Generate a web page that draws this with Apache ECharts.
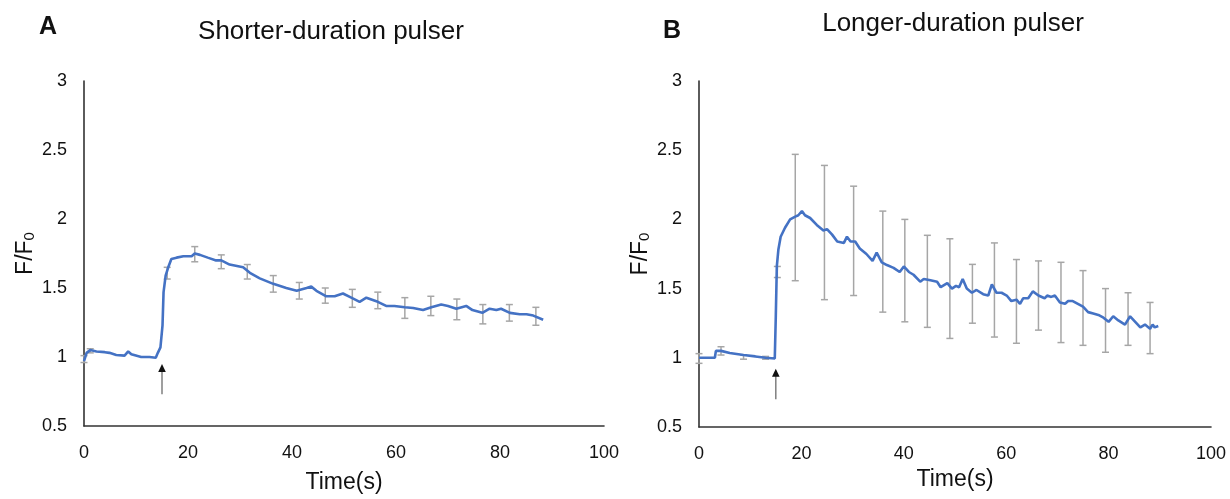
<!DOCTYPE html>
<html>
<head>
<meta charset="utf-8">
<script src="https://cdn.jsdelivr.net/npm/echarts@6/dist/echarts.min.js"></script>
<style>
  html, body { margin: 0; padding: 0; background: #ffffff; }
  #chart { width: 1230px; height: 499px; }
</style>
</head>
<body>
<div id="chart"></div>
<script>
// ---------------- data ----------------
var xTicks = [0, 20, 40, 60, 80, 100];
var yTicks = [0.5, 1, 1.5, 2, 2.5, 3];

// Panel A: shorter-duration pulser (mean trace)
var timeA = [0, 0.5, 1.2, 2.4, 4, 4.9, 6.2, 7.8, 8.5, 9.1, 11, 12.6, 13.8, 14.2, 14.7, 15.1, 15.3, 15.7, 16.2, 16.8,
  17.8, 19.1, 20.7, 21.3, 22.3, 23.8, 25.4, 26.4, 28, 30.6, 31.9, 33.8, 36.4, 38.9, 40.9, 42.8, 43.7, 44.7, 46.6, 48.2,
  49.8, 51.4, 53, 54.3, 56.5, 58.1, 59.7, 61.7, 63.3, 65.2, 66.8, 68.7, 70, 71.6, 73.5, 74.7, 76.6, 78, 79.3, 80.2,
  81.9, 83.8, 85.1, 86.4, 88.3];
var valueA = [0.97, 1.03, 1.05, 1.04, 1.035, 1.03, 1.015, 1.01, 1.04, 1.02, 1.00, 1.00, 0.995, 1.03, 1.07, 1.23, 1.47, 1.59, 1.65, 1.71,
  1.72, 1.73, 1.73, 1.75, 1.74, 1.72, 1.70, 1.70, 1.67, 1.65, 1.61, 1.57, 1.53, 1.50, 1.48, 1.50, 1.51, 1.48, 1.44, 1.44,
  1.46, 1.43, 1.40, 1.43, 1.40, 1.37, 1.37, 1.36, 1.355, 1.34, 1.36, 1.38, 1.37, 1.35, 1.37, 1.34, 1.32, 1.35, 1.34, 1.35,
  1.32, 1.31, 1.31, 1.30, 1.27];
// Panel A error bars
var errTimeA = [0, 1.2, 16, 21.3, 26.4, 31.4, 36.4, 41.4, 46.4, 51.6, 56.5, 61.7, 66.7, 71.7, 76.7, 81.8, 86.9];
var errLowA  = [0.96, 1.03, 1.565, 1.69, 1.64, 1.565, 1.47, 1.42, 1.39, 1.36, 1.35, 1.28, 1.30, 1.27, 1.24, 1.26, 1.23];
var errHighA = [1.01, 1.06, 1.65, 1.80, 1.74, 1.67, 1.59, 1.54, 1.50, 1.49, 1.47, 1.43, 1.44, 1.42, 1.38, 1.38, 1.36];

// Panel B: longer-duration pulser (mean trace)
var timeB = [0, 3.1, 3.3, 4.3, 6, 8.7, 11, 13, 14.8, 15.0, 15.2, 15.5, 15.95, 16.8, 17.8, 18.8, 19.4, 20.1, 20.7, 21.7,
  23, 24.3, 25, 26, 27, 28.3, 28.9, 29.6, 30.5, 31.4, 32.7, 33.9, 34.7, 35.7, 36.7, 38, 39.2, 40, 41, 41.9,
  43.2, 43.9, 45.2, 46.5, 47.2, 48.5, 49.4, 50.2, 50.8, 51.5, 52.3, 53.3, 54.2, 55.5, 56.5, 57.2, 58.1, 59.1, 60.1, 61,
  62, 62.7, 63.3, 64.3, 65.2, 66.3, 67.5, 68, 68.8, 69.5, 70.5, 71.5, 72.1, 73, 74, 75, 76, 77, 78, 79,
  80, 80.9, 81.9, 83.2, 84.2, 85.2, 86.2, 87.1, 88.1, 88.6, 89, 89.7];
var valueB = [1.0, 1.0, 1.05, 1.05, 1.035, 1.02, 1.01, 1.0, 0.995, 1.3, 1.66, 1.78, 1.875, 1.94, 2.0, 2.02, 2.03, 2.06, 2.03, 2.01,
  1.96, 1.92, 1.93, 1.89, 1.84, 1.83, 1.875, 1.84, 1.84, 1.79, 1.75, 1.70, 1.76, 1.69, 1.67, 1.65, 1.62, 1.66, 1.62, 1.60,
  1.55, 1.57, 1.56, 1.55, 1.51, 1.54, 1.50, 1.52, 1.51, 1.57, 1.50, 1.47, 1.49, 1.46, 1.45, 1.53, 1.47, 1.47, 1.45, 1.41,
  1.42, 1.39, 1.43, 1.43, 1.48, 1.45, 1.43, 1.45, 1.44, 1.45, 1.40, 1.39, 1.41, 1.41, 1.39, 1.37, 1.33, 1.32, 1.31, 1.29,
  1.26, 1.30, 1.27, 1.24, 1.30, 1.26, 1.22, 1.24, 1.21, 1.24, 1.22, 1.23];
// Panel B error bars
var errTimeB = [0, 4.3, 8.7, 13, 15.3, 18.8, 24.5, 30.2, 35.9, 40.2, 44.6, 49, 53.4, 57.7, 62, 66.3, 70.7, 75, 79.4, 83.8, 88.1];
var errLowB  = [0.96, 1.02, 0.99, 0.99, 1.58, 1.557, 1.42, 1.45, 1.33, 1.26, 1.22, 1.14, 1.25, 1.15, 1.105, 1.20, 1.11, 1.09, 1.04, 1.09, 1.03];
var errHighB = [1.03, 1.08, 1.02, 1.01, 1.66, 2.47, 2.39, 2.24, 2.06, 2.00, 1.885, 1.86, 1.675, 1.83, 1.71, 1.70, 1.69, 1.63, 1.50, 1.47, 1.40];

// Stimulus arrows: [time, tail value, tip value]
var arrowA = [15, 0.73, 0.95];
var arrowB = [15, 0.70, 0.92];

// ---------------- helpers ----------------
function zip2(a, b) { return a.map(function (v, i) { return [v, b[i]]; }); }
function zip3(a, b, c) { return a.map(function (v, i) { return [v, b[i], c[i]]; }); }

var FONT = "'Liberation Sans', Arial, Helvetica, sans-serif";
var TXT = '#111111';

function errRender(params, api) {
  var x = api.value(0), lo = api.value(1), hi = api.value(2);
  var p1 = api.coord([x, lo]);
  var p2 = api.coord([x, hi]);
  var w = 3.5;
  var st = { stroke: '#A6A6A6', lineWidth: 1.5 };
  return {
    type: 'group',
    children: [
      { type: 'line', shape: { x1: p1[0], y1: p1[1], x2: p2[0], y2: p2[1] }, style: st },
      { type: 'line', shape: { x1: p1[0] - w, y1: p1[1], x2: p1[0] + w, y2: p1[1] }, style: st },
      { type: 'line', shape: { x1: p2[0] - w, y1: p2[1], x2: p2[0] + w, y2: p2[1] }, style: st }
    ]
  };
}

function arrowRender(params, api) {
  var x = api.value(0), from = api.value(1), to = api.value(2);
  var a = api.coord([x, from]);
  var b = api.coord([x, to]);
  var hh = 8, hw = 3.8;
  return {
    type: 'group',
    children: [
      { type: 'line', shape: { x1: a[0], y1: a[1], x2: b[0], y2: b[1] + hh - 1 },
        style: { stroke: '#7f7f7f', lineWidth: 1.5 } },
      { type: 'polygon', shape: { points: [[b[0], b[1]], [b[0] - hw, b[1] + hh], [b[0] + hw, b[1] + hh]] },
        style: { fill: '#111111' } }
    ]
  };
}

function makeX(idx, gap) {
  return {
    type: 'value', gridIndex: idx, min: xTicks[0], max: xTicks[xTicks.length - 1],
    interval: xTicks[1] - xTicks[0],
    splitLine: { show: false },
    axisTick: { show: false },
    axisLine: { lineStyle: { color: '#333333', width: 1.6 } },
    axisLabel: { fontSize: 18, color: TXT, fontFamily: FONT, margin: 18 },
    name: 'Time(s)', nameLocation: 'middle', nameGap: gap,
    nameTextStyle: { fontSize: 23, color: TXT, fontFamily: FONT }
  };
}
function makeY(idx) {
  return {
    type: 'value', gridIndex: idx, min: yTicks[0], max: yTicks[yTicks.length - 1],
    interval: yTicks[1] - yTicks[0],
    splitLine: { show: false },
    axisTick: { show: false },
    axisLine: { show: true, lineStyle: { color: '#333333', width: 1.6 } },
    axisLabel: { fontSize: 18, color: TXT, fontFamily: FONT, margin: 17 },
    name: '{a|F/F}{b|0}', nameLocation: 'middle', nameGap: 47, nameRotate: 90,
    nameTextStyle: {
      color: TXT, fontFamily: FONT,
      rich: {
        a: { fontSize: 23, color: TXT, fontFamily: FONT, lineHeight: 23 },
        b: { fontSize: 15, color: TXT, fontFamily: FONT, lineHeight: 6, verticalAlign: 'bottom' }
      }
    }
  };
}

var chart = echarts.init(document.getElementById('chart'), null, { renderer: 'canvas' });
var option = {
  backgroundColor: '#ffffff',
  animation: false,
  grid: [
    { left: 84, top: 81, width: 520, height: 352 },
    { left: 699, top: 81, width: 512, height: 346 }
  ],
  xAxis: [makeX(0, 45), makeX(1, 41)],
  yAxis: [makeY(0), makeY(1)],
  graphic: [
    { type: 'text', x: 48, y: 27, style: { text: 'A', font: 'bold 25px ' + FONT, fill: '#111', textAlign: 'center', textVerticalAlign: 'middle' } },
    { type: 'text', x: 672, y: 31, style: { text: 'B', font: 'bold 25px ' + FONT, fill: '#111', textAlign: 'center', textVerticalAlign: 'middle' } },
    { type: 'text', x: 331, y: 32, style: { text: 'Shorter-duration pulser', font: '26px ' + FONT, fill: TXT, textAlign: 'center', textVerticalAlign: 'middle' } },
    { type: 'text', x: 953, y: 24, style: { text: 'Longer-duration pulser', font: '26px ' + FONT, fill: TXT, textAlign: 'center', textVerticalAlign: 'middle' } }
  ],
  series: [
    { type: 'custom', xAxisIndex: 0, yAxisIndex: 0, renderItem: errRender, data: zip3(errTimeA, errLowA, errHighA), z: 2 },
    { type: 'line', xAxisIndex: 0, yAxisIndex: 0, data: zip2(timeA, valueA), showSymbol: false,
      lineStyle: { color: '#4472C4', width: 2.6 }, z: 3 },
    { type: 'custom', xAxisIndex: 0, yAxisIndex: 0, renderItem: arrowRender, data: [arrowA], z: 4 },

    { type: 'custom', xAxisIndex: 1, yAxisIndex: 1, renderItem: errRender, data: zip3(errTimeB, errLowB, errHighB), z: 2 },
    { type: 'line', xAxisIndex: 1, yAxisIndex: 1, data: zip2(timeB, valueB), showSymbol: false,
      lineStyle: { color: '#4472C4', width: 2.6 }, z: 3 },
    { type: 'custom', xAxisIndex: 1, yAxisIndex: 1, renderItem: arrowRender, data: [arrowB], z: 4 }
  ]
};
chart.setOption(option);
</script>
</body>
</html>
